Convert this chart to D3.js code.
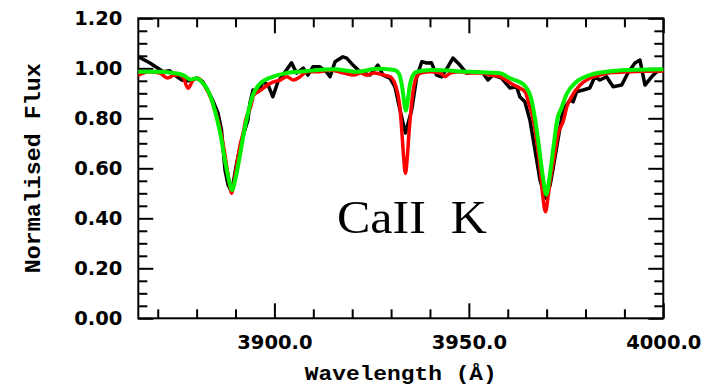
<!DOCTYPE html>
<html>
<head>
<meta charset="utf-8">
<script src="https://cdn.jsdelivr.net/npm/d3@7"></script>
<style>
  html, body { margin: 0; padding: 0; background: #fff; }
  svg { display: block; }
</style>
</head>
<body>
<svg id="chart" width="706" height="386"></svg>
<script>
// Observed spectrum (wavelength in Å, normalised flux)
const obsWave = [3865.0, 3868.0, 3871.4, 3873.1, 3874.4, 3876.2, 3877.8, 3880.0, 3881.6, 3882.8,
  3884.1, 3885.5, 3886.4, 3887.3, 3888.1, 3889.0, 3890.3, 3891.6, 3892.4, 3893.2,
  3893.7, 3894.5, 3895.8, 3897.1, 3898.4, 3899.6, 3900.9, 3902.2, 3904.4, 3905.7,
  3907.4, 3908.6, 3909.9, 3911.7, 3913.4, 3914.3, 3915.6, 3917.6, 3918.6, 3920.2,
  3922.0, 3924.6, 3926.6, 3927.9, 3929.7, 3931.0, 3932.3, 3933.7, 3935.3, 3936.6,
  3937.9, 3939.2, 3940.4, 3941.7, 3943.0, 3944.6, 3945.9, 3947.7, 3949.4, 3952.0,
  3953.6, 3954.9, 3956.2, 3958.4, 3960.6, 3962.3, 3963.1, 3964.4, 3965.7, 3967.0,
  3968.3, 3969.6, 3970.9, 3971.6, 3972.9, 3974.2, 3976.0, 3976.8, 3977.7, 3979.4,
  3981.1, 3982.4, 3983.7, 3985.4, 3987.1, 3989.3, 3990.9, 3992.7, 3994.0, 3995.3,
  3997.0, 3998.3, 4000.0];
const obsFlux = [1.046, 1.021, 0.986, 0.990, 0.973, 0.953, 0.950, 0.961, 0.946, 0.913,
  0.873, 0.821, 0.753, 0.593, 0.533, 0.505, 0.621, 0.713, 0.753, 0.793,
  0.861, 0.913, 0.906, 0.946, 0.933, 0.886, 0.946, 0.973, 1.022, 0.981,
  1.001, 0.973, 1.006, 1.006, 0.985, 0.966, 1.026, 1.046, 1.041, 1.013,
  0.986, 0.973, 1.013, 0.973, 0.961, 0.926, 0.833, 0.741, 0.833, 0.966,
  1.026, 1.021, 1.022, 0.973, 0.966, 1.006, 1.041, 1.013, 0.981, 0.986,
  0.981, 0.953, 0.973, 0.961, 0.921, 0.926, 0.886, 0.866, 0.793, 0.673,
  0.553, 0.481, 0.533, 0.593, 0.713, 0.833, 0.873, 0.866, 0.906, 0.913,
  0.921, 0.966, 0.953, 0.966, 0.926, 0.933, 0.981, 1.021, 1.033, 0.933,
  0.966, 0.986, 0.993];

// Model A (red)
const redWave = [3865.0, 3868.0, 3870.5, 3872.5, 3874.4, 3876.2, 3877.8, 3879.1, 3880.4, 3882.2,
  3883.5, 3884.7, 3885.9, 3887.0, 3888.0, 3888.6, 3889.0, 3889.4, 3890.0, 3891.0,
  3892.0, 3892.6, 3893.9, 3894.7, 3896.5, 3898.2, 3899.8, 3901.5, 3903.2, 3904.9,
  3906.6, 3908.4, 3911.0, 3914.3, 3917.8, 3920.4, 3922.2, 3923.8, 3925.6, 3928.1,
  3929.8, 3930.8, 3931.7, 3932.3, 3932.8, 3933.2, 3933.7, 3934.2, 3934.6, 3935.1,
  3935.6, 3936.4, 3937.6, 3940.1, 3942.7, 3943.9, 3945.2, 3947.8, 3950.4, 3952.9,
  3955.5, 3958.1, 3960.2, 3961.6, 3963.2, 3964.5, 3965.4, 3966.6, 3967.6, 3968.4,
  3969.0, 3969.7, 3970.4, 3971.0, 3971.7, 3973.0, 3974.3, 3975.2, 3976.4, 3978.6,
  3981.1, 3983.7, 3986.9, 3991.1, 3995.0, 4000.0];
const redFlux = [0.973, 0.986, 0.981, 0.961, 0.973, 0.973, 0.920, 0.953, 0.960, 0.926,
  0.886, 0.833, 0.767, 0.680, 0.580, 0.525, 0.500, 0.525, 0.580, 0.680,
  0.745, 0.793, 0.846, 0.893, 0.913, 0.933, 0.946, 0.953, 0.966, 0.953,
  0.966, 0.986, 0.986, 0.993, 0.981, 0.973, 0.981, 0.973, 0.981, 0.973,
  0.966, 0.946, 0.900, 0.840, 0.740, 0.650, 0.580, 0.650, 0.740, 0.830,
  0.900, 0.960, 0.981, 0.986, 0.981, 0.966, 0.981, 0.986, 0.981, 0.981,
  0.973, 0.966, 0.946, 0.933, 0.920, 0.905, 0.860, 0.793, 0.690, 0.590,
  0.490, 0.426, 0.490, 0.560, 0.620, 0.740, 0.790, 0.846, 0.886, 0.933,
  0.960, 0.973, 0.983, 0.986, 0.988, 0.989];

// Model B (green)
const greenWave = [3865.0, 3869.8, 3874.0, 3876.5, 3878.5, 3880.0, 3881.3, 3882.6, 3883.9, 3885.1,
  3886.2, 3887.2, 3888.2, 3889.1, 3890.0, 3891.0, 3891.8, 3893.0, 3894.3, 3896.4,
  3899.5, 3902.8, 3908.4, 3915.3, 3921.2, 3926.4, 3930.8, 3932.0, 3932.9, 3933.4,
  3933.8, 3934.2, 3934.7, 3935.4, 3936.6, 3940.2, 3950.4, 3958.1, 3960.6, 3962.9,
  3964.6, 3965.9, 3967.0, 3968.0, 3969.0, 3969.9, 3970.8, 3971.8, 3972.7, 3973.8,
  3975.1, 3977.7, 3981.1, 3985.4, 3991.3, 4000.0];
const greenFlux = [0.986, 0.986, 0.981, 0.973, 0.955, 0.960, 0.946, 0.920, 0.873, 0.806,
  0.730, 0.640, 0.560, 0.513, 0.560, 0.640, 0.713, 0.806, 0.886, 0.940,
  0.966, 0.980, 0.989, 0.996, 0.986, 0.998, 0.993, 0.980, 0.920, 0.860,
  0.830, 0.860, 0.920, 0.965, 0.986, 0.993, 0.986, 0.980, 0.960, 0.946,
  0.926, 0.886, 0.800, 0.690, 0.570, 0.495, 0.570, 0.690, 0.793, 0.840,
  0.895, 0.946, 0.973, 0.986, 0.993, 0.996];

// Axis ticks and labels
const xMajorTicks = [3900, 3950, 4000];
const xMinorTicks = [3870, 3880, 3890, 3910, 3920, 3930, 3940, 3960, 3970, 3980, 3990];
const yMajorTicks = [0.0, 0.2, 0.4, 0.6, 0.8, 1.0, 1.2];
const yMinorTicks = [0.05, 0.10, 0.15, 0.25, 0.30, 0.35, 0.45, 0.50, 0.55, 0.65, 0.70, 0.75,
  0.85, 0.90, 0.95, 1.05, 1.10, 1.15];
const xTitle = "Wavelength (Å)";
const yTitle = "Normalised Flux";
const annotation = "CaII  K";

const svg = d3.select("#chart");
const pLeft = 138.3, pRight = 663.3, pTop = 18.3, pBottom = 318.3;

const x = d3.scaleLinear().domain([3865, 4000]).range([pLeft, pRight]);
const y = d3.scaleLinear().domain([0, 1.2]).range([pBottom, pTop]);

const MAJ = 15, MIN = 9;
const tickFont = "'DejaVu Sans', sans-serif";

function styleAxis(g) {
  g.select(".domain").remove();
  g.selectAll(".tick line").attr("stroke", "#000").attr("stroke-width", 2);
}

// Bottom axis with labels
const gx = svg.append("g").attr("transform", `translate(0,${pBottom})`)
  .call(d3.axisBottom(x).tickValues(xMajorTicks).tickSize(-MAJ).tickPadding(17)
    .tickFormat(d3.format(".1f")));
styleAxis(gx);
gx.selectAll(".tick text").attr("font-family", tickFont).attr("font-weight", "bold")
  .attr("font-size", 19.5).attr("fill", "#000");
svg.append("g").attr("transform", `translate(0,${pBottom})`)
  .call(d3.axisBottom(x).tickValues(xMinorTicks).tickSize(-MIN).tickFormat(""))
  .call(styleAxis);
// Top axis
svg.append("g").attr("transform", `translate(0,${pTop})`)
  .call(d3.axisTop(x).tickValues(xMajorTicks).tickSize(-MAJ).tickFormat(""))
  .call(styleAxis);
svg.append("g").attr("transform", `translate(0,${pTop})`)
  .call(d3.axisTop(x).tickValues(xMinorTicks).tickSize(-MIN).tickFormat(""))
  .call(styleAxis);

// Left axis with labels
const gy = svg.append("g").attr("transform", `translate(${pLeft},0)`)
  .call(d3.axisLeft(y).tickValues(yMajorTicks).tickSize(-MAJ).tickPadding(16)
    .tickFormat(d3.format(".2f")));
styleAxis(gy);
gy.selectAll(".tick text").attr("font-family", tickFont).attr("font-weight", "bold")
  .attr("font-size", 19.5).attr("fill", "#000");
svg.append("g").attr("transform", `translate(${pLeft},0)`)
  .call(d3.axisLeft(y).tickValues(yMinorTicks).tickSize(-MIN).tickFormat(""))
  .call(styleAxis);
// Right axis
svg.append("g").attr("transform", `translate(${pRight},0)`)
  .call(d3.axisRight(y).tickValues(yMajorTicks).tickSize(-MAJ).tickFormat(""))
  .call(styleAxis);
svg.append("g").attr("transform", `translate(${pRight},0)`)
  .call(d3.axisRight(y).tickValues(yMinorTicks).tickSize(-MIN).tickFormat(""))
  .call(styleAxis);

// Plot frame
svg.append("rect")
  .attr("x", pLeft).attr("y", pTop)
  .attr("width", pRight - pLeft).attr("height", pBottom - pTop)
  .attr("fill", "none").attr("stroke", "#000").attr("stroke-width", 2);

// Spectra, clipped to the frame
svg.append("clipPath").attr("id", "clip")
  .append("rect").attr("x", pLeft).attr("y", pTop)
  .attr("width", pRight - pLeft).attr("height", pBottom - pTop);
const area = svg.append("g").attr("clip-path", "url(#clip)");

function series(wave, flux, color, width, curve) {
  const pts = wave.map((w, i) => [w, flux[i]]);
  const line = d3.line().x(d => x(d[0])).y(d => y(d[1])).curve(curve);
  area.append("path").datum(pts)
    .attr("d", line)
    .attr("fill", "none")
    .attr("stroke", color)
    .attr("stroke-width", width)
    .attr("stroke-linejoin", "round")
    .attr("stroke-linecap", "round");
}
series(obsWave, obsFlux, "#000", 3.5, d3.curveLinear);
series(redWave, redFlux, "#ff0000", 3.5, d3.curveMonotoneX);
series(greenWave, greenFlux, "#00f000", 4, d3.curveMonotoneX);

// Titles
svg.append("text")
  .attr("x", (pLeft + pRight) / 2).attr("y", 380)
  .attr("text-anchor", "middle")
  .attr("font-family", "'Liberation Mono', monospace")
  .attr("font-weight", "bold").attr("font-size", 21)
  .attr("textLength", 192).attr("lengthAdjust", "spacingAndGlyphs")
  .text(xTitle);

svg.append("text")
  .attr("transform", `translate(40,${(pTop + pBottom) / 2}) rotate(-90)`)
  .attr("text-anchor", "middle")
  .attr("font-family", "'Liberation Mono', monospace")
  .attr("font-weight", "bold").attr("font-size", 22)
  .attr("textLength", 210).attr("lengthAdjust", "spacingAndGlyphs")
  .text(yTitle);

svg.append("text")
  .attr("x", 337).attr("y", 233)
  .attr("font-family", "'Liberation Serif', serif")
  .attr("font-size", 47)
  .attr("textLength", 150).attr("lengthAdjust", "spacingAndGlyphs")
  .style("white-space", "pre")
  .text(annotation);
</script>
</body>
</html>
